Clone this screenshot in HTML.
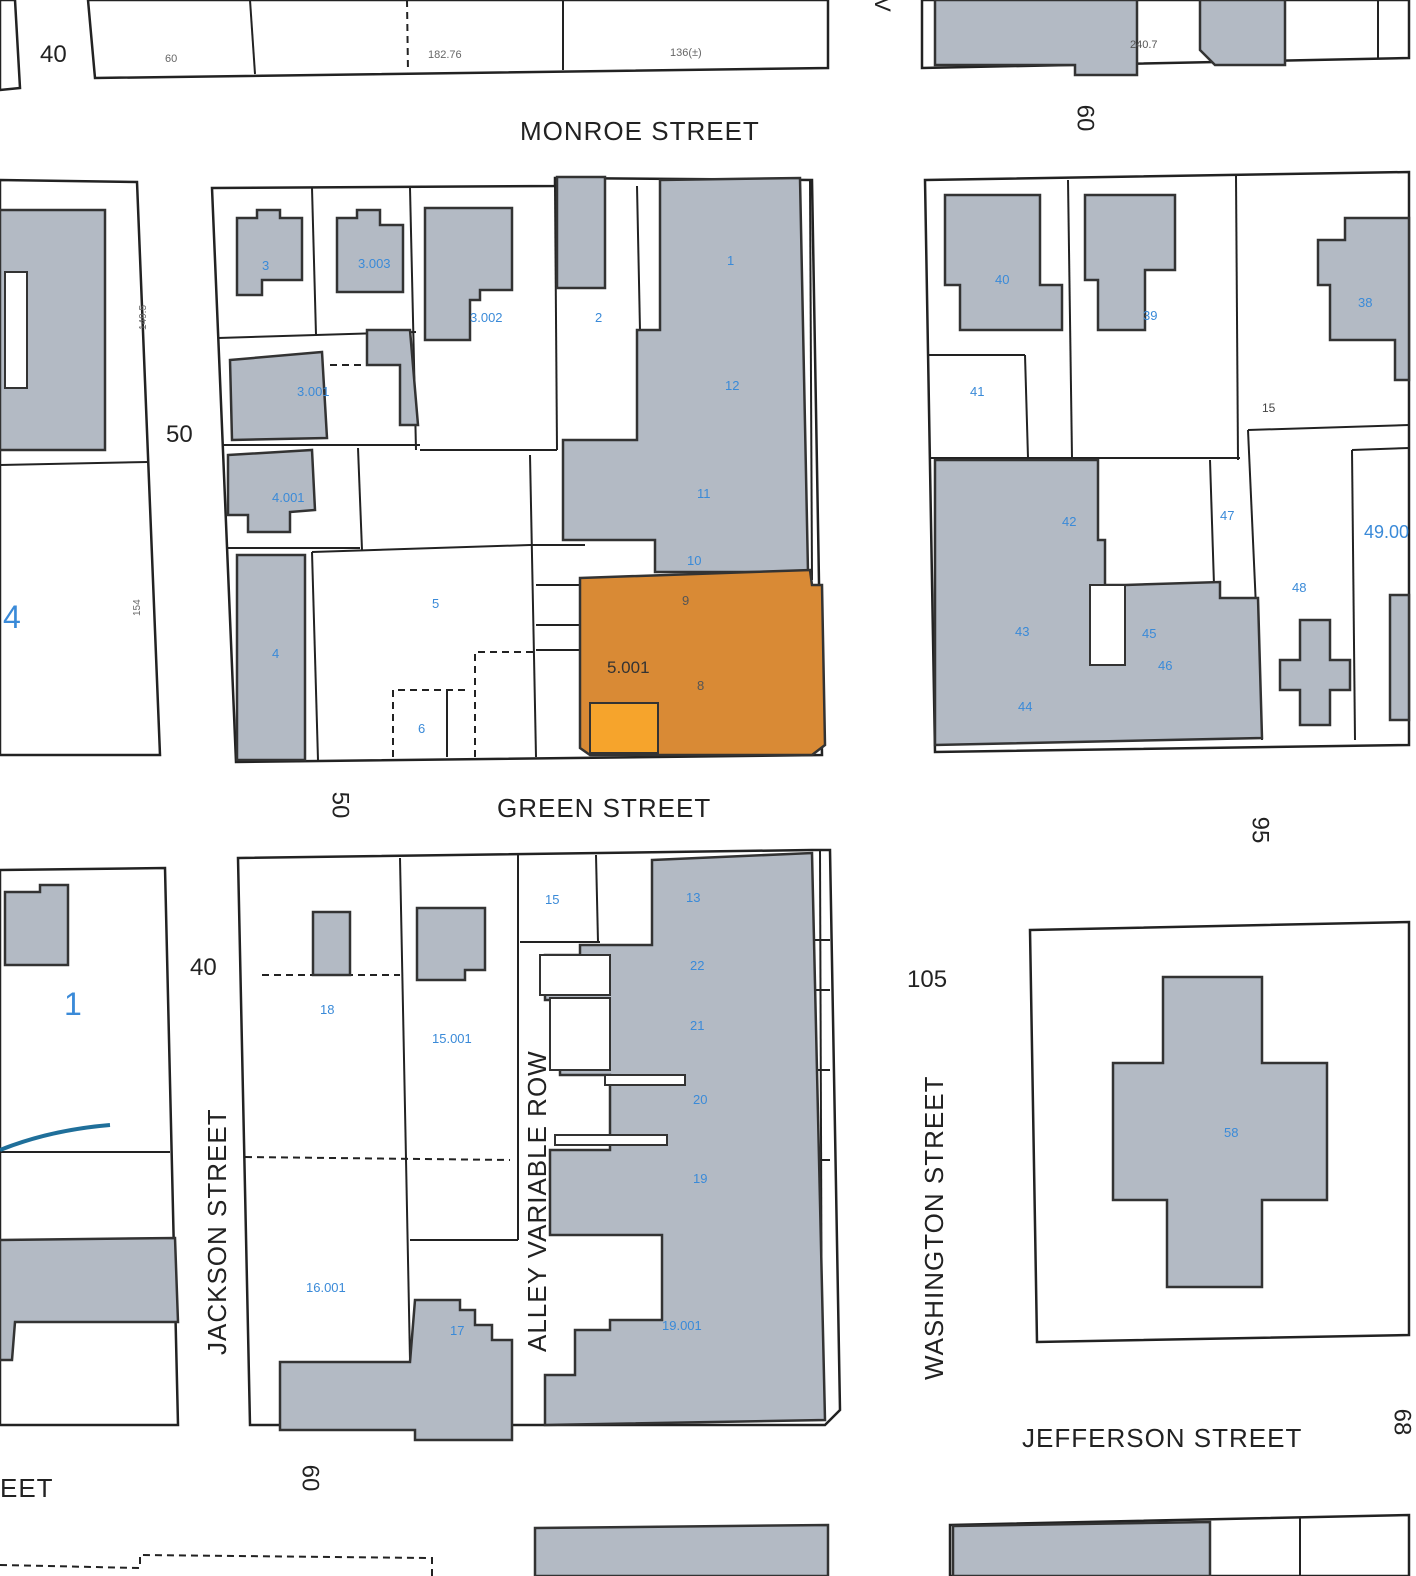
<!DOCTYPE html>
<html><head><meta charset="utf-8"><style>
html,body{margin:0;padding:0;background:#fff}
svg{display:block}
text{font-family:"Liberation Sans",sans-serif}
.b{fill:#fff;stroke:#222;stroke-width:2.5}
.g{fill:#b3bac4;stroke:#333;stroke-width:2.5}
.l{stroke:#222;stroke-width:2;fill:none}
.d{stroke:#222;stroke-width:2;fill:none;stroke-dasharray:7 5}
.s{font-size:26px;fill:#222;letter-spacing:1px}
.n{font-size:13px;fill:#3a8ad8}
.r{font-size:24px;fill:#222;text-anchor:middle;dominant-baseline:central}
</style></head><body>
<svg width="1416" height="1576" viewBox="0 0 1416 1576" xmlns="http://www.w3.org/2000/svg">
<rect width="1416" height="1576" fill="#fff"/>
<polygon class="b" points="0,0 15,0 20,88 0,90"/>
<polygon class="b" points="88,0 828,0 828,68 95,78"/>
<line class="l" x1="250" y1="0" x2="255" y2="74"/><line class="d" x1="407" y1="0" x2="408" y2="72"/><line class="l" x1="563" y1="0" x2="563" y2="70"/>
<text x="40" y="62" font-size="24" fill="#222">40</text>
<text x="165" y="62" style="fill:#666;font-size:11px">60</text>
<text x="428" y="58" style="fill:#666;font-size:11px">182.76</text>
<text x="670" y="56" style="fill:#666;font-size:11px">136(±)</text>
<polygon class="b" points="922,0 1409,0 1409,58 922,68"/>
<polygon class="g" points="935,0 1137,0 1137,75 1075,75 1075,65 935,65"/>
<polygon class="g" points="1200,0 1285,0 1285,65 1215,65 1200,50"/>
<line class="l" x1="1378" y1="0" x2="1378" y2="58"/>
<text x="1130" y="48" style="fill:#555;font-size:11px">240.7</text>
<text class="r" transform="translate(1085 118) rotate(90)">60</text>
<text x="862" y="0" font-size="22" fill="#222" transform="rotate(90 870 5)">V</text>
<text x="520" y="140" class="s">MONROE STREET</text>
<polygon class="b" points="0,180 137,182 160,755 0,755"/>
<line class="l" x1="0" y1="465" x2="148" y2="462"/>
<rect class="g" x="0" y="210" width="105" height="240"/>
<rect x="5" y="272" width="22" height="116" fill="#fff" stroke="#333" stroke-width="2"/>
<text x="3" y="628" font-size="32" fill="#3a8ad8">4</text>
<text x="166" y="442" font-size="24" fill="#222">50</text>
<text x="120" y="340" style="fill:#666;font-size:10px" transform="rotate(-90 128 322)">149.5</text>
<text x="125" y="615" style="fill:#666;font-size:10px" transform="rotate(-90 133 608)">154</text>
<polygon class="b" points="212,188 555,186 555,178 812,180 822,755 236,762"/>
<line class="l" x1="312" y1="188" x2="316" y2="335"/><line class="l" x1="410" y1="188" x2="416" y2="450"/>
<line class="l" x1="218" y1="338" x2="416" y2="332"/><line class="l" x1="222" y1="445" x2="420" y2="445"/>
<line class="l" x1="555" y1="186" x2="557" y2="450"/><line class="l" x1="420" y1="450" x2="557" y2="450"/>
<line class="l" x1="226" y1="548" x2="360" y2="548"/><line class="l" x1="358" y1="448" x2="362" y2="550"/>
<line class="l" x1="312" y1="552" x2="318" y2="760"/><line class="l" x1="312" y1="552" x2="530" y2="545"/>
<line class="l" x1="530" y1="455" x2="536" y2="757"/><line class="l" x1="530" y1="545" x2="585" y2="545"/>
<line class="l" x1="536" y1="585" x2="580" y2="585"/><line class="l" x1="536" y1="625" x2="580" y2="625"/><line class="l" x1="536" y1="650" x2="580" y2="650"/>
<line class="l" x1="637" y1="186" x2="640" y2="330"/><line class="l" x1="810" y1="180" x2="812" y2="580"/>
<polyline class="d" points="475,757 475,652 535,652"/>
<polyline class="d" points="393,757 393,690 470,690"/>
<line class="l" x1="447" y1="690" x2="447" y2="757"/>
<polyline class="d" points="330,365 370,365"/>
<polygon class="g" points="660,180 800,178 808,572 655,572 655,540 563,540 563,440 637,440 637,330 660,330"/>
<polygon class="g" points="557,177 605,177 605,288 557,288"/>
<polygon class="g" points="237,218 257,218 257,210 280,210 280,218 302,218 302,280 262,280 262,295 237,295"/>
<polygon class="g" points="337,218 357,218 357,210 380,210 380,225 403,225 403,292 337,292"/>
<polygon class="g" points="425,208 512,208 512,290 480,290 480,300 470,300 470,340 425,340"/>
<polygon class="g" points="230,360 322,352 327,438 232,440"/>
<polygon class="g" points="367,330 410,330 418,425 400,425 400,365 367,365"/>
<polygon class="g" points="228,455 312,450 315,510 290,512 290,532 248,532 248,515 228,515"/>
<rect class="g" x="237" y="555" width="68" height="205"/>
<polygon points="580,578 810,570 812,585 822,585 825,745 812,755 590,755 580,748" fill="#d98a35" stroke="#333" stroke-width="2.5"/>
<rect x="590" y="703" width="68" height="50" fill="#f6a42c" stroke="#333" stroke-width="2"/>
<text x="607" y="673" font-size="17" fill="#333">5.001</text>
<g class="n"><text x="262" y="270">3</text><text x="358" y="268">3.003</text><text x="470" y="322">3.002</text><text x="595" y="322">2</text><text x="727" y="265">1</text><text x="725" y="390">12</text><text x="297" y="396">3.001</text><text x="272" y="502">4.001</text><text x="697" y="498">11</text><text x="687" y="565">10</text><text x="432" y="608">5</text><text x="272" y="658">4</text><text x="418" y="733">6</text></g>
<text x="682" y="605" font-size="13" fill="#555">9</text><text x="697" y="690" font-size="13" fill="#555">8</text>
<polygon class="b" points="925,180 1409,172 1409,745 935,752"/>
<line class="l" x1="1068" y1="180" x2="1072" y2="458"/><line class="l" x1="1236" y1="176" x2="1238" y2="460"/>
<line class="l" x1="928" y1="355" x2="1025" y2="355"/><line class="l" x1="1025" y1="355" x2="1028" y2="458"/>
<line class="l" x1="930" y1="458" x2="1240" y2="458"/><line class="l" x1="1248" y1="430" x2="1409" y2="425"/>
<line class="l" x1="1248" y1="430" x2="1262" y2="740"/><line class="l" x1="1210" y1="460" x2="1214" y2="585"/>
<polygon class="g" points="945,195 1040,195 1040,285 1062,285 1062,330 960,330 960,285 945,285"/>
<polygon class="g" points="1085,195 1175,195 1175,270 1145,270 1145,330 1098,330 1098,280 1085,280"/>
<polygon class="g" points="1345,218 1409,218 1409,380 1395,380 1395,340 1330,340 1330,285 1318,285 1318,240 1345,240"/>
<polygon class="g" points="935,460 1098,460 1098,540 1105,540 1105,585 1125,585 1125,585 1220,582 1220,598 1258,598 1262,738 935,745"/>
<rect x="1090" y="585" width="35" height="80" fill="#fff" stroke="#333" stroke-width="2"/>
<polygon class="g" points="1300,620 1330,620 1330,660 1350,660 1350,690 1330,690 1330,725 1300,725 1300,690 1280,690 1280,660 1300,660"/>
<polygon class="g" points="1390,595 1409,595 1409,720 1390,720"/>
<line class="l" x1="1352" y1="450" x2="1355" y2="740"/><line class="l" x1="1352" y1="450" x2="1409" y2="448"/>
<g class="n"><text x="995" y="284">40</text><text x="1143" y="320">39</text><text x="1358" y="307">38</text><text x="970" y="396">41</text><text x="1062" y="526">42</text><text x="1220" y="520">47</text><text x="1292" y="592">48</text><text x="1015" y="636">43</text><text x="1142" y="638">45</text><text x="1158" y="670">46</text><text x="1018" y="711">44</text><text x="1364" y="538" style="font-size:18px">49.00</text></g>
<text x="1262" y="412" style="fill:#444;font-size:12px">15</text>
<text x="497" y="817" class="s">GREEN STREET</text>
<text class="r" transform="translate(340 805) rotate(90)">50</text>
<text class="r" transform="translate(1260 830) rotate(90)">95</text>
<polygon class="b" points="0,870 165,868 178,1425 0,1425"/>
<line class="l" x1="0" y1="1152" x2="170" y2="1152"/>
<polygon class="g" points="5,892 40,892 40,885 68,885 68,965 5,965"/>
<polygon class="g" points="0,1240 175,1238 178,1322 15,1322 12,1360 0,1360"/>
<path d="M0,1150 Q50,1130 110,1125" stroke="#1f6f9a" stroke-width="4" fill="none"/>
<text x="64" y="1015" font-size="32" fill="#3a8ad8">1</text>
<text x="190" y="975" font-size="24" fill="#222">40</text>
<polygon class="b" points="238,858 812,850 830,850 840,1410 825,1425 250,1425"/>
<line class="l" x1="400" y1="858" x2="410" y2="1360"/><line class="l" x1="518" y1="854" x2="518" y2="1240"/>
<polyline class="d" points="262,975 400,975"/><polyline class="d" points="245,1157 510,1160"/>
<line class="l" x1="410" y1="1240" x2="518" y2="1240"/><line class="l" x1="520" y1="942" x2="600" y2="942"/>
<line class="l" x1="596" y1="855" x2="598" y2="942"/><line class="l" x1="820" y1="850" x2="822" y2="1410"/>
<line class="l" x1="810" y1="940" x2="830" y2="940"/><line class="l" x1="810" y1="990" x2="830" y2="990"/><line class="l" x1="810" y1="1070" x2="830" y2="1070"/><line class="l" x1="810" y1="1160" x2="830" y2="1160"/>
<polygon class="g" points="652,860 812,853 825,1420 545,1425 545,1375 575,1375 575,1330 610,1330 610,1320 662,1320 662,1235 550,1235 550,1150 610,1150 610,1075 560,1075 560,1000 545,1000 545,955 580,955 580,945 652,945"/>
<rect x="540" y="955" width="70" height="40" fill="#fff" stroke="#333" stroke-width="2"/>
<rect x="550" y="998" width="60" height="72" fill="#fff" stroke="#333" stroke-width="2"/>
<rect x="605" y="1075" width="80" height="10" fill="#fff" stroke="#333" stroke-width="2"/>
<rect x="555" y="1135" width="112" height="10" fill="#fff" stroke="#333" stroke-width="2"/>
<polygon class="g" points="313,912 350,912 350,975 313,975"/>
<polygon class="g" points="417,908 485,908 485,970 465,970 465,980 417,980"/>
<polygon class="g" points="415,1300 460,1300 460,1310 475,1310 475,1325 492,1325 492,1340 512,1340 512,1440 415,1440 415,1430 280,1430 280,1362 410,1362"/>
<g class="n"><text x="320" y="1014">18</text><text x="432" y="1043">15.001</text><text x="306" y="1292">16.001</text><text x="450" y="1335">17</text><text x="545" y="904">15</text><text x="686" y="902">13</text><text x="690" y="970">22</text><text x="690" y="1030">21</text><text x="693" y="1104">20</text><text x="693" y="1183">19</text><text x="662" y="1330">19.001</text></g>
<text x="0" y="0" class="s" transform="translate(546 1352) rotate(-90)">ALLEY  VARIABLE ROW</text>
<text x="0" y="0" class="s" transform="translate(226 1355) rotate(-90)">JACKSON STREET</text>
<text class="r" transform="translate(310 1478) rotate(90)">60</text>
<text x="907" y="987" font-size="24" fill="#222">105</text>
<text x="0" y="0" class="s" transform="translate(943 1380) rotate(-90)">WASHINGTON STREET</text>
<polygon class="b" points="1030,930 1409,922 1409,1335 1037,1342"/>
<polygon class="g" points="1163,977 1262,977 1262,1063 1327,1063 1327,1200 1262,1200 1262,1287 1167,1287 1167,1200 1113,1200 1113,1063 1163,1063"/>
<text x="1224" y="1137" class="n">58</text>
<text x="1022" y="1447" class="s">JEFFERSON STREET</text>
<text class="r" transform="translate(1402 1422) rotate(90)">68</text>
<text x="0" y="1497" class="s">EET</text>
<polyline class="d" points="0,1565 140,1568 140,1555 432,1558 432,1576"/>
<polygon class="g" points="535,1528 828,1525 828,1576 535,1576"/>
<polygon class="b" points="950,1525 1409,1515 1409,1576 950,1576"/>
<polygon class="g" points="953,1526 1210,1522 1210,1576 953,1576"/>
<line class="l" x1="1300" y1="1518" x2="1300" y2="1576"/>
</svg>
</body></html>
